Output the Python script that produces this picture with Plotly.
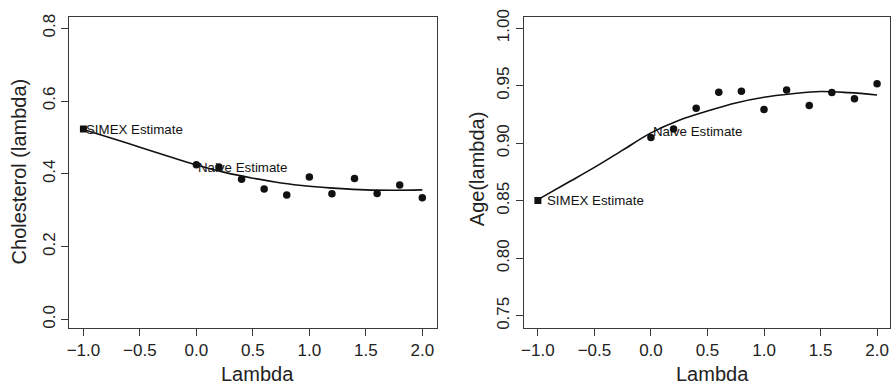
import plotly.graph_objects as go

# ---- data ----
lam = [0.0, 0.2, 0.4, 0.6, 0.8, 1.0, 1.2, 1.4, 1.6, 1.8, 2.0]
chol_pts = [0.425, 0.419, 0.385, 0.358, 0.342, 0.391, 0.345, 0.387, 0.346, 0.369, 0.334]
age_pts = [0.905, 0.9125, 0.9305, 0.9444, 0.9453, 0.9294, 0.9464, 0.9328, 0.9441, 0.9387, 0.9517]

curve_lam = [-1.0, -0.75, -0.5, -0.25, 0.0, 0.25, 0.5, 0.75, 1.0, 1.25, 1.5, 1.75, 2.0]
chol_curve = [0.522, 0.498, 0.473, 0.448, 0.424, 0.404, 0.388, 0.375, 0.366, 0.360, 0.356, 0.355, 0.356]
age_curve = [0.851, 0.865, 0.879, 0.894, 0.909, 0.920, 0.928, 0.935, 0.940, 0.943, 0.945, 0.944, 0.942]

simex_lam = [-1.0]
chol_simex = [0.5228]
age_simex = [0.8503]

x_ticks = [-1.0, -0.5, 0.0, 0.5, 1.0, 1.5, 2.0]
chol_ticks = [0.0, 0.2, 0.4, 0.6, 0.8]
age_ticks = [0.75, 0.80, 0.85, 0.90, 0.95, 1.00]

W, H = 891, 389
FONT = "Liberation Sans, Arial, Helvetica, sans-serif"
INK = "#111111"
FRAME = "#3a3a3a"

fig = go.Figure()

# left panel
fig.add_trace(go.Scatter(x=curve_lam, y=chol_curve, mode="lines", line=dict(color=INK, width=1.6, shape="spline"),
                         xaxis="x", yaxis="y", showlegend=False, hoverinfo="skip"))
fig.add_trace(go.Scatter(x=lam, y=chol_pts, mode="markers", marker=dict(color=INK, size=7.5, symbol="circle"),
                         xaxis="x", yaxis="y", showlegend=False))
fig.add_trace(go.Scatter(x=simex_lam, y=chol_simex, mode="markers", marker=dict(color=INK, size=7, symbol="square"),
                         xaxis="x", yaxis="y", showlegend=False))
# right panel
fig.add_trace(go.Scatter(x=curve_lam, y=age_curve, mode="lines", line=dict(color=INK, width=1.6, shape="spline"),
                         xaxis="x2", yaxis="y2", showlegend=False, hoverinfo="skip"))
fig.add_trace(go.Scatter(x=lam, y=age_pts, mode="markers", marker=dict(color=INK, size=7.5, symbol="circle"),
                         xaxis="x2", yaxis="y2", showlegend=False))
fig.add_trace(go.Scatter(x=simex_lam, y=age_simex, mode="markers", marker=dict(color=INK, size=7, symbol="square"),
                         xaxis="x2", yaxis="y2", showlegend=False))

ax_common = dict(showline=True, mirror=True, linecolor=FRAME, linewidth=1, ticks="outside", ticklen=7,
                 tickwidth=1, tickcolor=FRAME, showgrid=False, zeroline=False,
                 tickfont=dict(family=FONT, size=17, color="#222222"))

ydom = [1 - 328 / H, 1 - 9.3 / H]
fig.update_layout(
    width=W, height=H,
    margin=dict(l=0, r=0, t=0, b=0),
    paper_bgcolor="white", plot_bgcolor="white",
    hovermode=False,
    xaxis=dict(domain=[66.7 / W, 435 / W], range=[-1.1235, 2.126], tickvals=x_ticks, tickformat=".1f",
               anchor="y", **ax_common),
    yaxis=dict(domain=ydom, range=[-0.0222, 0.8305], tickvals=chol_ticks, tickformat=".1f",
               tickangle=-90, anchor="x", **ax_common),
    xaxis2=dict(domain=[522.7 / W, 890.3 / W], range=[-1.1234, 2.117], tickvals=x_ticks, tickformat=".1f",
                anchor="y2", **ax_common),
    yaxis2=dict(domain=ydom, range=[0.7398, 1.0097], tickvals=age_ticks, tickformat=".2f",
                tickangle=-90, anchor="x2", **ax_common),
)

ann_font = dict(family=FONT, size=13.3, color=INK)
title_font = dict(family=FONT, size=20, color="#222222")
annotations = [
    dict(x=-1.0, y=chol_simex[0], xref="x", yref="y", text="SIMEX Estimate", showarrow=False,
         xanchor="left", yanchor="middle", xshift=1, font=ann_font),
    dict(x=0.0, y=0.417, xref="x", yref="y", text="Naive Estimate", showarrow=False,
         xanchor="left", yanchor="middle", xshift=0, font=ann_font),
    dict(x=-1.0, y=age_simex[0], xref="x2", yref="y2", text="SIMEX Estimate", showarrow=False,
         xanchor="left", yanchor="middle", xshift=7, font=ann_font),
    dict(x=0.0, y=0.910, xref="x2", yref="y2", text="Naive Estimate", showarrow=False,
         xanchor="left", yanchor="middle", xshift=0, font=ann_font),
    # axis titles
    dict(x=255.8 / W, y=1 - 376 / H, xref="paper", yref="paper", text="Lambda", showarrow=False,
         xanchor="center", yanchor="middle", font=title_font),
    dict(x=712.2 / W, y=1 - 376 / H, xref="paper", yref="paper", text="Lambda", showarrow=False,
         xanchor="center", yanchor="middle", font=title_font),
    dict(x=17 / W, y=1 - 167.8 / H, xref="paper", yref="paper", text="Cholesterol (lambda)", showarrow=False,
         xanchor="center", yanchor="middle", textangle=-90, font=title_font),
    dict(x=475 / W, y=1 - 165 / H, xref="paper", yref="paper", text="Age(lambda)", showarrow=False,
         xanchor="center", yanchor="middle", textangle=-90, font=title_font),
]
fig.update_layout(annotations=annotations)

fig.write_html("out.html",
               config={"displayModeBar": False, "staticPlot": True},
               post_script="document.body.style.margin='0';document.body.style.padding='0';"
                           "document.documentElement.style.overflow='hidden';")
